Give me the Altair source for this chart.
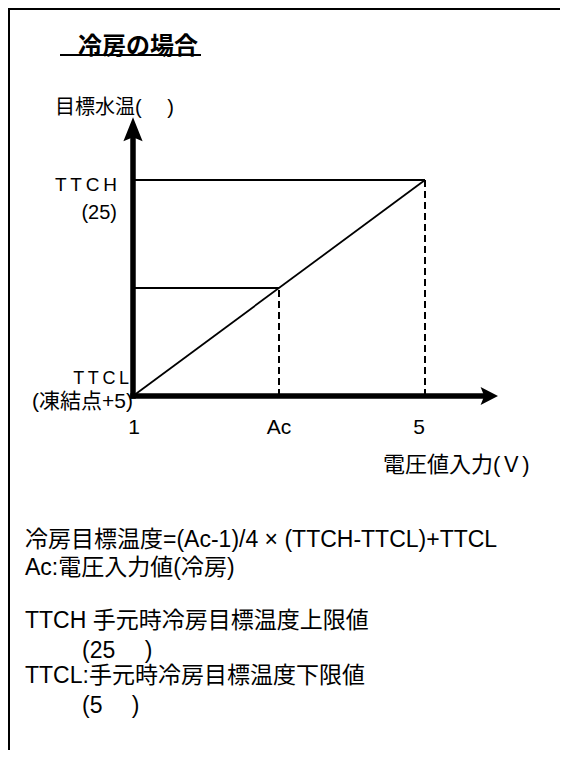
import altair as alt
import pandas as pd

FONT = "Liberation Sans, Noto Sans CJK JP"

# ---- data values ----
volt_ticks = [1, 3, 5]              # 1, Ac, 5  (V)
volt_tick_labels = ["1", "Ac", "5"]
ttcl = 5                             # lower limit (freezing point + 5)
ttch = 25                            # upper limit
ac_volt = 3
ac_temp = 15
x_axis_end = 6.0                     # arrow tip of voltage axis
y_axis_end = 30.8                    # arrow tip of temperature axis

xs = alt.Scale(domain=[1, 5], range=[125, 417], nice=False, zero=False)
ys = alt.Scale(domain=[5, 25], range=[388, 172], nice=False, zero=False)

def X(f):
    return alt.X(f, type="quantitative", scale=xs, axis=None)

def Y(f):
    return alt.Y(f, type="quantitative", scale=ys, axis=None)

# frame (top and left border)
frame = pd.DataFrame({"x": [0, 1], "x2": [552, 1], "y": [1, 0], "y2": [1, 742]})
frame_layer = alt.Chart(frame).mark_rule(color="black", strokeWidth=2).encode(
    x=alt.X("x:Q", scale=None), x2="x2:Q",
    y=alt.Y("y:Q", scale=None), y2="y2:Q")

# axes
axes = pd.DataFrame({"x": [1, 1], "x2": [x_axis_end - 0.2, 1],
                     "y": [ttcl, ttcl], "y2": [ttcl, y_axis_end - 2.0]})
axes_layer = alt.Chart(axes).mark_rule(color="black", strokeWidth=5.5, strokeCap="square").encode(
    x=X("x"), x2="x2:Q", y=Y("y"), y2="y2:Q")

up_arrow = pd.DataFrame({"x": [1], "y": [y_axis_end]})
up_arrow_layer = alt.Chart(up_arrow).mark_point(
    shape="M0,0L0.8,2L0,1.65L-0.8,2Z", size=576, filled=True,
    color="black", opacity=1, strokeWidth=0).encode(x=X("x"), y=Y("y"))

right_arrow = pd.DataFrame({"x": [x_axis_end], "y": [ttcl]})
right_arrow_layer = alt.Chart(right_arrow).mark_point(
    shape="M0,0L-1.45,-0.75L-1.15,0L-1.45,0.75Z", size=576, filled=True,
    color="black", opacity=1, strokeWidth=0).encode(x=X("x"), y=Y("y"))

# characteristic line
diag = pd.DataFrame({"x": [1, 5], "y": [ttcl, ttch]})
diag_layer = alt.Chart(diag).mark_line(color="black", strokeWidth=1.8).encode(x=X("x"), y=Y("y"))

# horizontal guides
hguide = pd.DataFrame({"x": [1, 1], "x2": [ac_volt, 5], "y": [ac_temp, ttch]})
h_layer = alt.Chart(hguide).mark_rule(color="black", strokeWidth=2).encode(
    x=X("x"), x2="x2:Q", y=Y("y"))

# dashed verticals
vguide = pd.DataFrame({"x": [ac_volt, 5], "y": [ttcl, ttcl], "y2": [ac_temp, ttch]})
v_layer = alt.Chart(vguide).mark_rule(color="black", strokeWidth=2, strokeDash=[7, 4]).encode(
    x=X("x"), y=Y("y"), y2="y2:Q")

# tick labels on voltage axis
ticks = pd.DataFrame({"x": volt_ticks, "label": volt_tick_labels, "dx": [1, 0, -6]})
tick_layers = [
    alt.Chart(ticks.iloc[[i]]).mark_text(font=FONT, fontSize=21, baseline="middle",
                                          align="center", dx=float(ticks.dx[i])).encode(
        x=X("x"), y=alt.value(420), text="label:N")
    for i in range(len(ticks))
]

# title
title_layer = alt.Chart(pd.DataFrame({"t": ["冷房の場合"]})).mark_text(
    font=FONT, fontSize=24, fontWeight="bold", align="left", baseline="middle").encode(
    x=alt.value(70), y=alt.value(39), text="t:N")
underline = alt.Chart(pd.DataFrame({"a": [0]})).mark_rule(color="black", strokeWidth=2).encode(
    x=alt.value(52), x2=alt.value(193), y=alt.value(47))

# left aligned texts
left_txt = pd.DataFrame({
    "text": ["目標水温(　 )", "電圧値入力(Ｖ)",
             "冷房目標温度=(Ac-1)/4 × (TTCH-TTCL)+TTCL",
             "Ac:電圧入力値(冷房)",
             "TTCH 手元時冷房目標温度上限値", "(25　 )",
             "TTCL:手元時冷房目標温度下限値", "(5　 )"],
    "px": [47, 375, 17, 17, 17, 74, 17, 74],
    "py": [100, 457, 532, 560, 613, 643, 668, 698],
    "fs": [20, 22, 23, 23, 23, 23, 23, 23],
})
left_text_layer = alt.Chart(left_txt).mark_text(font=FONT, align="left", baseline="middle").encode(
    x=alt.X("px:Q", scale=None), y=alt.Y("py:Q", scale=None),
    size=alt.Size("fs:Q", scale=None, legend=None), text="text:N")

# right aligned texts (labels for temperature axis)
right_txt = pd.DataFrame({
    "text": ["T\u2009T\u2009C\u2009H", "(25)", "T\u2009T\u2009C\u2009L", "(凍結点+5)"],
    "px": [109, 109, 121, 125],
    "py": [177, 205, 371, 394],
    "fs": [19, 20, 18, 21],
})
right_text_layer = alt.Chart(right_txt).mark_text(font=FONT, align="right", baseline="middle").encode(
    x=alt.X("px:Q", scale=None), y=alt.Y("py:Q", scale=None),
    size=alt.Size("fs:Q", scale=None, legend=None), text="text:N")

chart = alt.layer(
    frame_layer, diag_layer, h_layer, v_layer, axes_layer, up_arrow_layer, right_arrow_layer,
    *tick_layers, title_layer, underline, left_text_layer, right_text_layer
).resolve_scale(x="independent", y="independent", size="independent").properties(
    width=552, height=742, autosize=alt.AutoSizeParams(type="none"), padding=0
).configure_view(stroke=None)

chart.save("out.html", embed_options={"renderer": "svg", "actions": False})
